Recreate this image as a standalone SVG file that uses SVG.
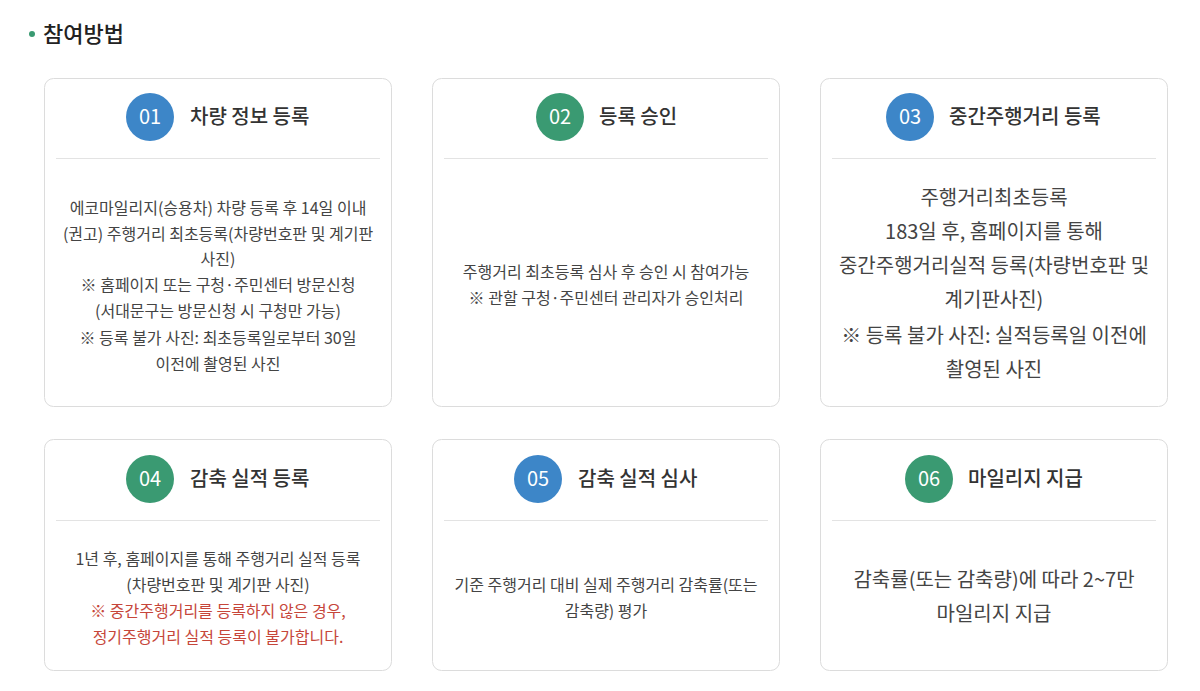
<svg xmlns="http://www.w3.org/2000/svg" width="1200" height="691" viewBox="0 0 1200 691">
<style>
text{font-family:"Noto Sans CJK KR","Noto Sans",sans-serif;fill:#333}
.card{fill:#fff;stroke:#dcdcdc;stroke-width:1}
.div{stroke:#e3e3e3;stroke-width:1}
.num{fill:#fff;font-size:20px;text-anchor:middle}
.ttl{font-size:20px;font-weight:500}
.b{font-size:16px;text-anchor:middle;fill:#444}
.bl{font-size:20px;text-anchor:middle;fill:#444}
.red{fill:#c6463a}
.blue{fill:#3d86c8}
.green{fill:#3a9a72}
</style>
<rect width="1200" height="691" fill="#fff"/>
<g id="heading">
<circle cx="32" cy="34" r="3" fill="#3a9a72"/>
<text x="43" y="42" style="font-size:22px;font-weight:500;fill:#222">참여방법</text>
</g>
<g id="step1">
<rect class="card" x="44.5" y="78.5" width="347" height="328" rx="9"/>
<circle class="blue" cx="150" cy="117" r="24"/>
<text class="num" x="150" y="124">01</text>
<text class="ttl" x="190" y="124">차량 정보 등록</text>
<line class="div" x1="56" y1="158.5" x2="380" y2="158.5"/>
<text class="b" x="218" y="214">에코마일리지(승용차) 차량 등록 후 14일 이내</text>
<text class="b" x="218" y="240">(권고) 주행거리 최초등록(차량번호판 및 계기판</text>
<text class="b" x="218" y="265">사진)</text>
<text class="b" x="218" y="291">※ 홈페이지 또는 구청·주민센터 방문신청</text>
<text class="b" x="218" y="317">(서대문구는 방문신청 시 구청만 가능)</text>
<text class="b" x="218" y="344">※ 등록 불가 사진: 최초등록일로부터 30일</text>
<text class="b" x="218" y="370">이전에 촬영된 사진</text>
</g>
<g id="step2">
<rect class="card" x="432.5" y="78.5" width="347" height="328" rx="9"/>
<circle class="green" cx="560" cy="117" r="24"/>
<text class="num" x="560" y="124">02</text>
<text class="ttl" x="599" y="124">등록 승인</text>
<line class="div" x1="444" y1="158.5" x2="768" y2="158.5"/>
<text class="b" x="606" y="278">주행거리 최초등록 심사 후 승인 시 참여가능</text>
<text class="b" x="606" y="304">※ 관할 구청·주민센터 관리자가 승인처리</text>
</g>
<g id="step3">
<rect class="card" x="820.5" y="78.5" width="347" height="328" rx="9"/>
<circle class="blue" cx="910" cy="117" r="24"/>
<text class="num" x="910" y="124">03</text>
<text class="ttl" x="949" y="124">중간주행거리 등록</text>
<line class="div" x1="832" y1="158.5" x2="1156" y2="158.5"/>
<text class="bl" x="994" y="205">주행거리최초등록</text>
<text class="bl" x="994" y="239">183일 후, 홈페이지를 통해</text>
<text class="bl" x="994" y="273">중간주행거리실적 등록(차량번호판 및</text>
<text class="bl" x="994" y="307">계기판사진)</text>
<text class="bl" x="994" y="343">※ 등록 불가 사진: 실적등록일 이전에</text>
<text class="bl" x="994" y="377">촬영된 사진</text>
</g>
<g id="step4">
<rect class="card" x="44.5" y="439.5" width="347" height="231" rx="9"/>
<circle class="green" cx="150" cy="479" r="24"/>
<text class="num" x="150" y="486">04</text>
<text class="ttl" x="190" y="486">감축 실적 등록</text>
<line class="div" x1="56" y1="520.5" x2="380" y2="520.5"/>
<text class="b" x="218" y="565">1년 후, 홈페이지를 통해 주행거리 실적 등록</text>
<text class="b" x="218" y="591">(차량번호판 및 계기판 사진)</text>
<text class="b red" x="218" y="617">※ 중간주행거리를 등록하지 않은 경우,</text>
<text class="b red" x="218" y="643">정기주행거리 실적 등록이 불가합니다.</text>
</g>
<g id="step5">
<rect class="card" x="432.5" y="439.5" width="347" height="231" rx="9"/>
<circle class="blue" cx="538" cy="479" r="24"/>
<text class="num" x="538" y="486">05</text>
<text class="ttl" x="578" y="486">감축 실적 심사</text>
<line class="div" x1="444" y1="520.5" x2="768" y2="520.5"/>
<text class="b" x="606" y="591">기준 주행거리 대비 실제 주행거리 감축률(또는</text>
<text class="b" x="606" y="617">감축량) 평가</text>
</g>
<g id="step6">
<rect class="card" x="820.5" y="439.5" width="347" height="231" rx="9"/>
<circle class="green" cx="929" cy="479" r="24"/>
<text class="num" x="929" y="486">06</text>
<text class="ttl" x="968" y="486">마일리지 지급</text>
<line class="div" x1="832" y1="520.5" x2="1156" y2="520.5"/>
<text class="bl" x="994" y="587">감축률(또는 감축량)에 따라 2~7만</text>
<text class="bl" x="994" y="621">마일리지 지급</text>
</g>
</svg>
